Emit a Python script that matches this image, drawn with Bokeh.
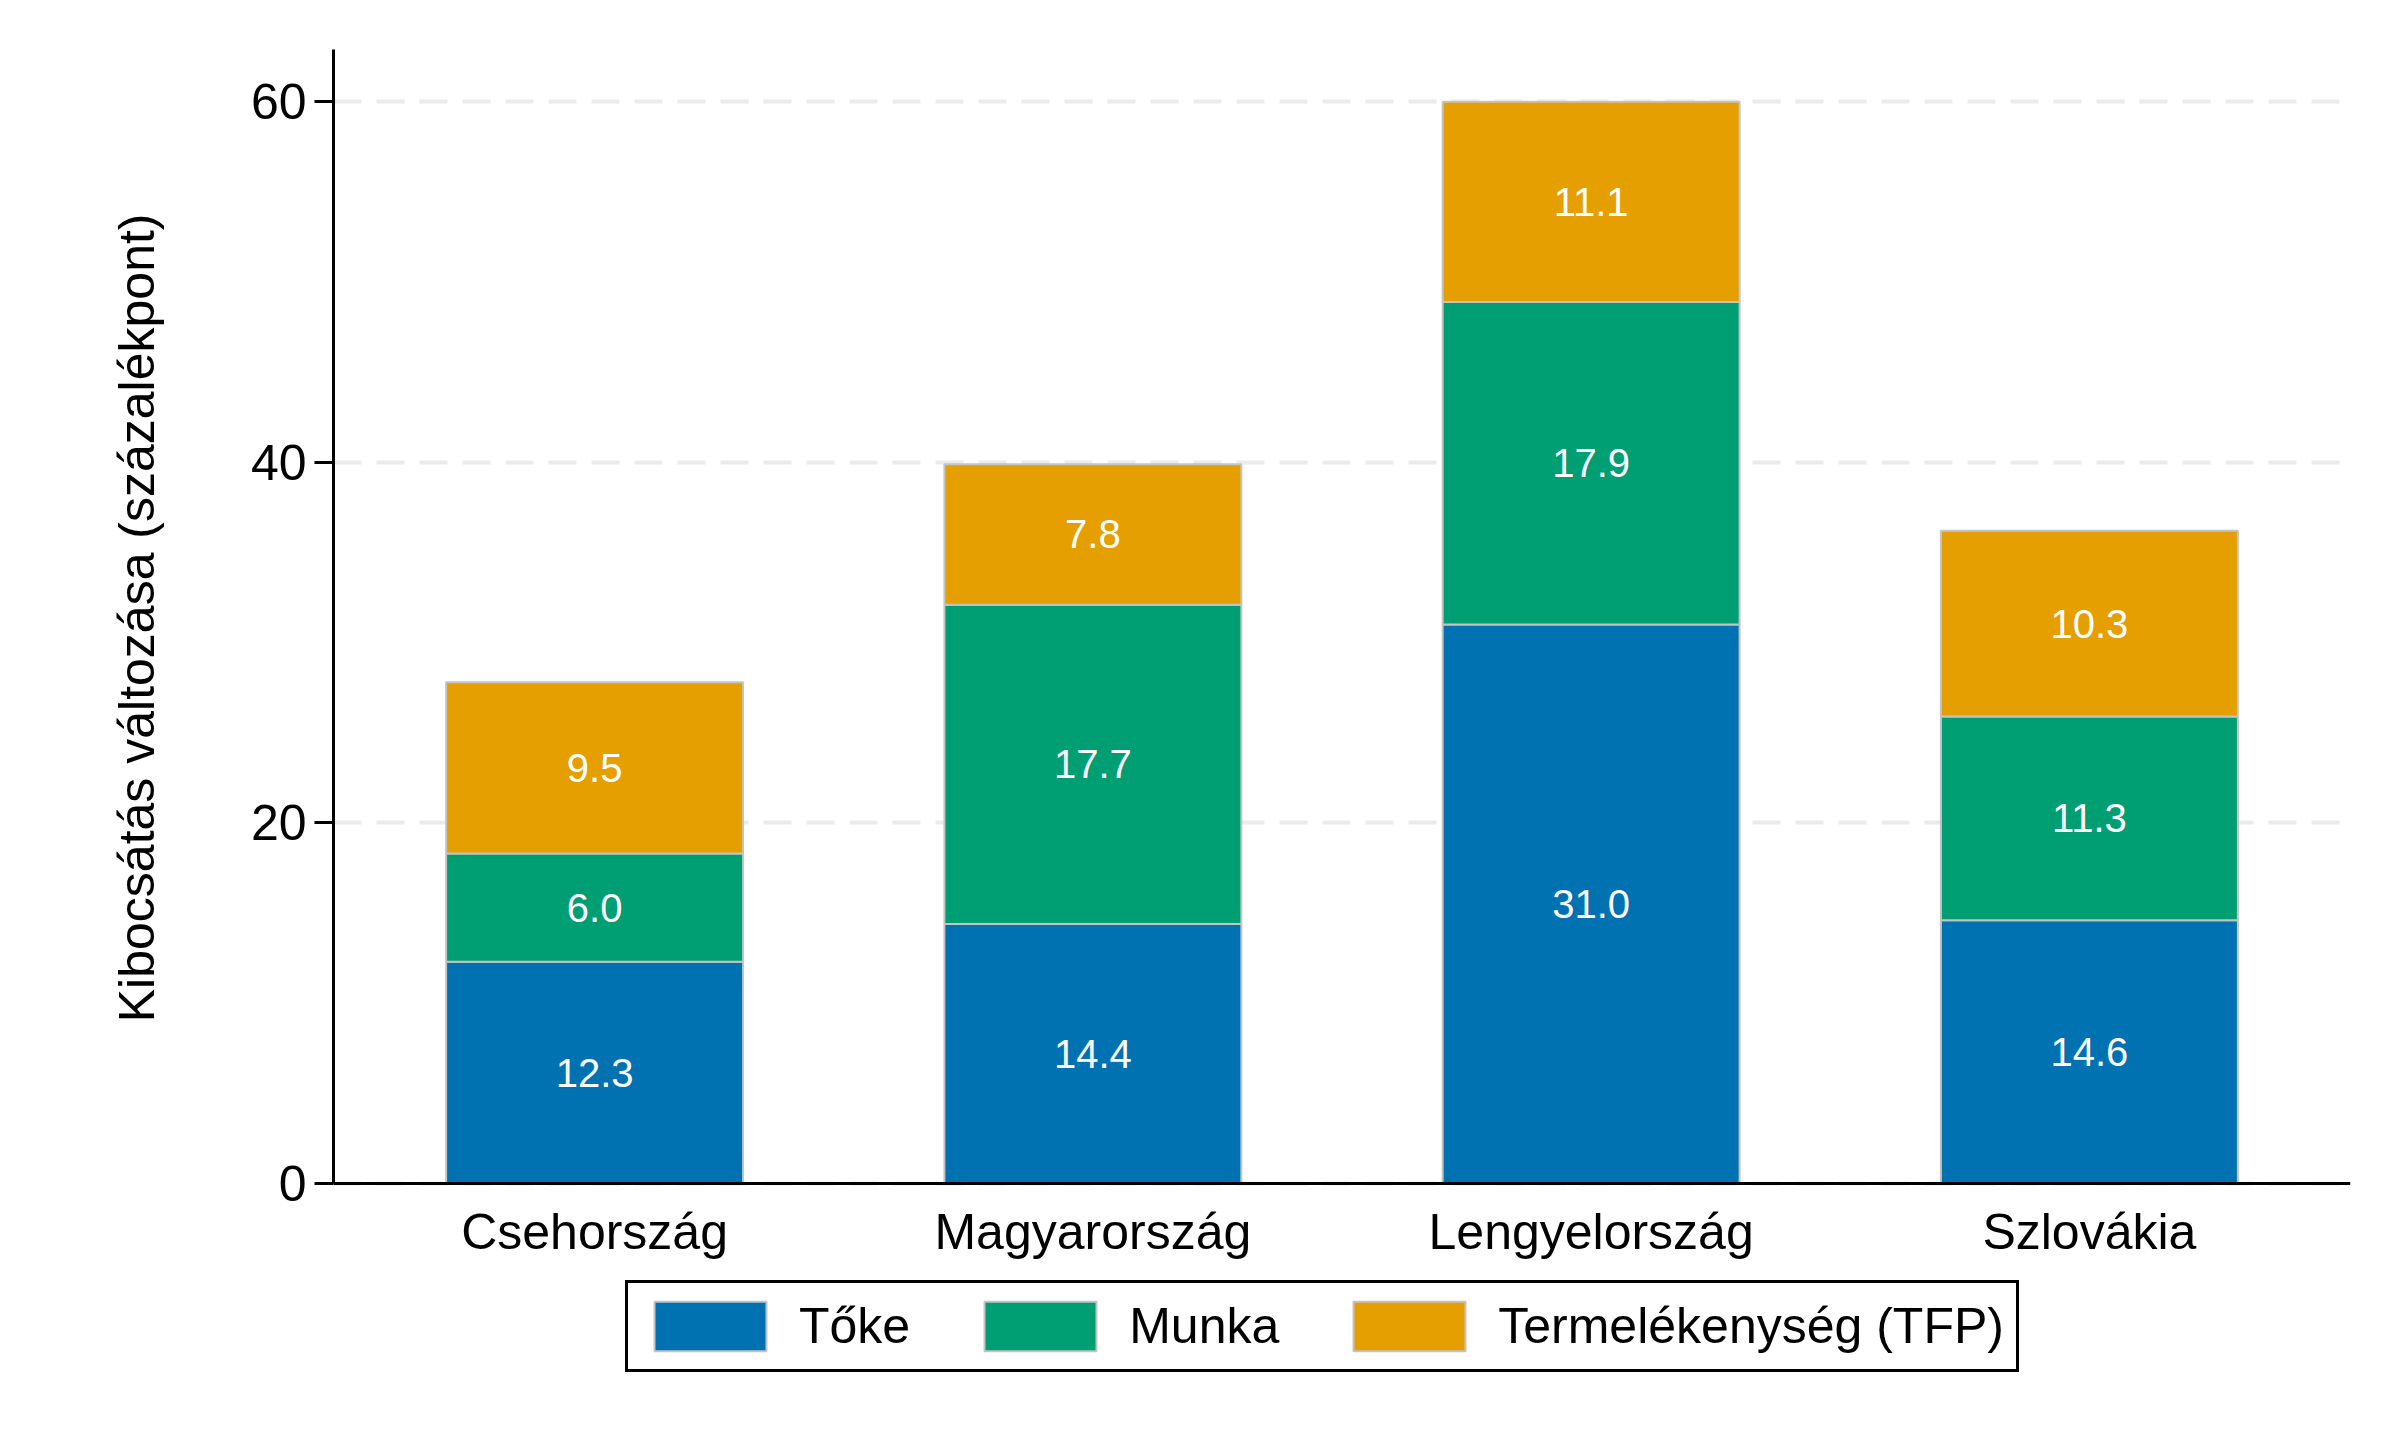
from bokeh.plotting import figure
from bokeh.models import ColumnDataSource, FactorRange, Range1d, Legend, LegendItem, Title
from bokeh.core.properties import value
from bokeh.embed import file_html
from bokeh.resources import INLINE

# ---- data ----
countries = ["Csehország", "Magyarország", "Lengyelország", "Szlovákia"]
toke = [12.3, 14.4, 31.0, 14.6]
munka = [6.0, 17.7, 17.9, 11.3]
tfp = [9.5, 7.8, 11.1, 10.3]
series_keys = ["toke", "munka", "tfp"]
series_names = ["Tőke", "Munka", "Termelékenység (TFP)"]
colors = ["#0072B2", "#009E73", "#E69F00"]
y_ticks = [0, 20, 40, 60]
y_label = "Kibocsátás változása (százalékpont)"

FONT = "Liberation Sans"

data = {"country": countries, "toke": toke, "munka": munka, "tfp": tfp}
bottom = [0.0] * len(countries)
for key in series_keys:
    vals = data[key]
    data[key + "_mid"] = [b + v / 2 for b, v in zip(bottom, vals)]
    data[key + "_lbl"] = ["%.1f" % v for v in vals]
    bottom = [b + v for b, v in zip(bottom, vals)]
source = ColumnDataSource(data)

# layout: the frame extends below zero to hold the category labels and legend
Y_TOP = 62.9
PLOT_H = 1134            # pixels between y=0 and Y_TOP
FRAME_H = 1360
Y_START = Y_TOP - FRAME_H * Y_TOP / PLOT_H

p = figure(
    x_range=FactorRange(factors=countries, range_padding=0.024, range_padding_units="absolute"),
    y_range=Range1d(Y_START, Y_TOP),
    frame_width=2017, frame_height=FRAME_H,
    min_border_left=333, min_border_right=31, min_border_top=49, min_border_bottom=0,
    output_backend="svg", toolbar_location=None,
    background_fill_color="white", border_fill_color="white",
)
p.outline_line_color = None

renderers = p.vbar_stack(series_keys, x="country", width=0.596, color=colors,
                         line_color="#c4c4c4", line_width=2, source=source)

for key in series_keys:
    p.text(x="country", y=key + "_mid", text=key + "_lbl", source=source,
           text_color="white", text_font=value(FONT), text_font_size="40px",
           text_align="center", text_baseline="middle")

# grid
p.xgrid.grid_line_color = None
p.ygrid.ticker = y_ticks
p.ygrid.grid_line_color = "#ebebeb"
p.ygrid.grid_line_width = 4
p.ygrid.grid_line_dash = "28 15"
p.ygrid.level = "underlay"

# axes
p.yaxis.ticker = y_ticks
p.yaxis.bounds = (0, Y_TOP)
for ax in (p.xaxis[0], p.yaxis[0]):
    ax.axis_line_color = "black"
    ax.axis_line_width = 3
    ax.minor_tick_line_color = None
    ax.major_label_text_font = FONT
    ax.major_label_text_font_size = "50px"
    ax.major_label_text_color = "black"
p.yaxis.major_tick_line_color = "black"
p.yaxis.major_tick_line_width = 3
p.yaxis.major_tick_out = 19
p.yaxis.major_tick_in = 0
p.yaxis.major_label_standoff = 8
p.xaxis.fixed_location = 0
p.xaxis.major_tick_line_color = None
p.xaxis.major_tick_out = 0
p.xaxis.major_tick_in = 0
p.xaxis.major_label_standoff = 20

# y-axis title, centred on the 0..Y_TOP part of the axis
ytitle = Title(text=y_label, align="right", offset=164, standoff=166,
               text_font=FONT, text_font_size="50px", text_font_style="normal",
               text_color="black")
p.add_layout(ytitle, "left")

legend = Legend(
    items=[LegendItem(label=n, renderers=[r]) for n, r in zip(series_names, renderers)],
    orientation="horizontal", location=(292, 37),
    glyph_width=140, glyph_height=62, label_standoff=19, spacing=60,
    padding=12, margin=0,
    border_line_color="black", border_line_width=3, border_line_alpha=1.0,
    label_text_font=FONT, label_text_font_size="50px", label_text_color="black",
    background_fill_color="white", background_fill_alpha=1.0,
)
p.add_layout(legend, "center")

open("out.html", "w").write(file_html(p, INLINE))
